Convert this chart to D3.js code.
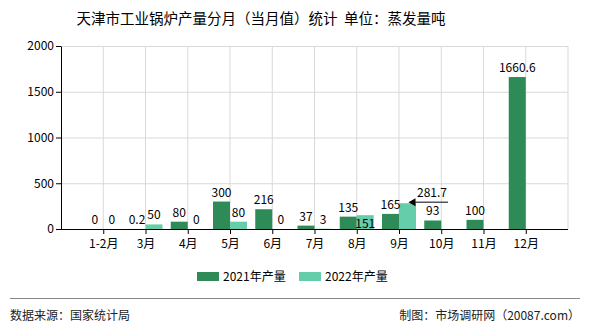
<!DOCTYPE html>
<html>
<head>
<meta charset="utf-8">
<script src="https://cdn.jsdelivr.net/npm/d3@7"></script>
<style>
  body { margin: 0; background: #fff; }
  text { font-family: "Noto Sans CJK SC", "DejaVu Sans", sans-serif; }
</style>
</head>
<body>
<div id="chart"></div>
<script>
// data
const months = ["1-2月", "3月", "4月", "5月", "6月", "7月", "8月", "9月", "10月", "11月", "12月"];
const output2021 = [0, 0.2, 80, 300, 216, 37, 135, 165, 93, 100, 1660.6];
const output2022 = [0, 50, 0, 80, 0, 3, 151, 281.7, null, null, null];
const yTicks = [0, 500, 1000, 1500, 2000];
const seriesNames = ["2021年产量", "2022年产量"];
const colors = ["#2e8b57", "#66cdaa"];

const W = 590, H = 330;
const plotL = 61, plotR = 568, plotT = 46, plotB = 229;
const barW = 17;

const svg = d3.select("#chart").append("svg")
    .attr("width", W)
    .attr("height", H);

// title
svg.append("text")
    .attr("x", 261)
    .attr("y", 24)
    .attr("text-anchor", "middle")
    .style("font-size", "14.5px")
    .style("white-space", "pre")
    .style("fill", "#000")
    .text("天津市工业锅炉产量分月（当月值）统计  单位：蒸发量吨");

// scales
const x = d3.scalePoint()
    .domain(months)
    .range([plotL, plotR])
    .padding(1);

const y = d3.scaleLinear()
    .domain([0, 2000])
    .range([plotB, plotT]);

// grid
svg.append("g")
    .selectAll("line")
    .data(yTicks.slice(1))
    .enter()
    .append("line")
    .attr("x1", plotL)
    .attr("x2", plotR)
    .attr("y1", d => y(d) + 0.5)
    .attr("y2", d => y(d) + 0.5)
    .style("stroke", "#d9d9d9");

svg.append("g")
    .selectAll("line")
    .data(months)
    .enter()
    .append("line")
    .attr("x1", d => x(d))
    .attr("x2", d => x(d))
    .attr("y1", plotT)
    .attr("y2", plotB)
    .style("stroke", "#d9d9d9");

svg.append("line")
    .attr("x1", plotR).attr("x2", plotR)
    .attr("y1", plotT).attr("y2", plotB)
    .style("stroke", "#d9d9d9");

// bars
const series = [output2021, output2022];
series.forEach((vals, si) => {
    const pts = months.map((m, i) => ({ m: m, v: vals[i] })).filter(d => d.v !== null);
    svg.append("g")
        .selectAll("rect")
        .data(pts)
        .enter()
        .append("rect")
        .attr("x", d => x(d.m) - barW + si * barW)
        .attr("y", d => y(d.v))
        .attr("width", barW)
        .attr("height", d => plotB - y(d.v))
        .attr("fill", colors[si]);
});

// axes
svg.append("g")
    .attr("transform", `translate(0,${plotB})`)
    .call(d3.axisBottom(x).tickSize(5).tickSizeOuter(0))
    .call(g => g.select(".domain").attr("d", `M${plotL},0.5H${plotR}`))
    .call(g => g.selectAll("text").style("font-size", "12px").attr("dy", "0.9em"));

svg.append("g")
    .attr("transform", `translate(${plotL},0)`)
    .call(d3.axisLeft(y).tickValues(yTicks).tickFormat(d3.format("d")).tickSize(5).tickSizeOuter(0))
    .call(g => g.selectAll("text").style("font-size", "12px").attr("x", -7));

svg.selectAll(".domain, .tick line").style("stroke", "#000");

// value labels
series.forEach((vals, si) => {
    months.forEach((m, i) => {
        const v = vals[i];
        if (v === null) return;
        const cx = x(m) - barW / 2 + si * barW;
        let tx = cx, ty = y(v) - 5;
        if (si === 1 && m === "8月") {
            ty = plotB - 1;
        }
        if (si === 1 && m === "9月") {
            tx = 432;
            ty = y(v) - 6;
            svg.append("line")
                .attr("x1", 448).attr("x2", cx + 3)
                .attr("y1", y(v) - 1).attr("y2", y(v) - 1)
                .style("stroke", "#555")
                .style("stroke-width", 1.5);
            svg.append("path")
                .attr("d", `M${cx + 1},${y(v) - 1}l7,-4l0,8z`)
                .attr("fill", "#000");
        }
        svg.append("text")
            .attr("x", tx)
            .attr("y", ty)
            .attr("text-anchor", "middle")
            .style("font-size", "12px")
            .text(v);
    });
});

// legend
const legend = svg.append("g");
const legX = [197, 299];
seriesNames.forEach((name, i) => {
    legend.append("rect")
        .attr("x", legX[i])
        .attr("y", 272)
        .attr("width", 22)
        .attr("height", 9)
        .attr("fill", colors[i]);
    legend.append("text")
        .attr("x", legX[i] + 26)
        .attr("y", 281)
        .style("font-size", "12px")
        .text(name);
});

// footer
svg.append("line")
    .attr("x1", 10).attr("x2", 580)
    .attr("y1", 298.5).attr("y2", 298.5)
    .style("stroke", "#888");

svg.append("text")
    .attr("x", 10)
    .attr("y", 320)
    .style("font-size", "12px")
    .style("fill", "#222")
    .text("数据来源：国家统计局");

svg.append("text")
    .attr("x", 580)
    .attr("y", 320)
    .attr("text-anchor", "end")
    .style("font-size", "12px")
    .style("fill", "#222")
    .text("制图：市场调研网（20087.com）");
</script>
</body>
</html>
